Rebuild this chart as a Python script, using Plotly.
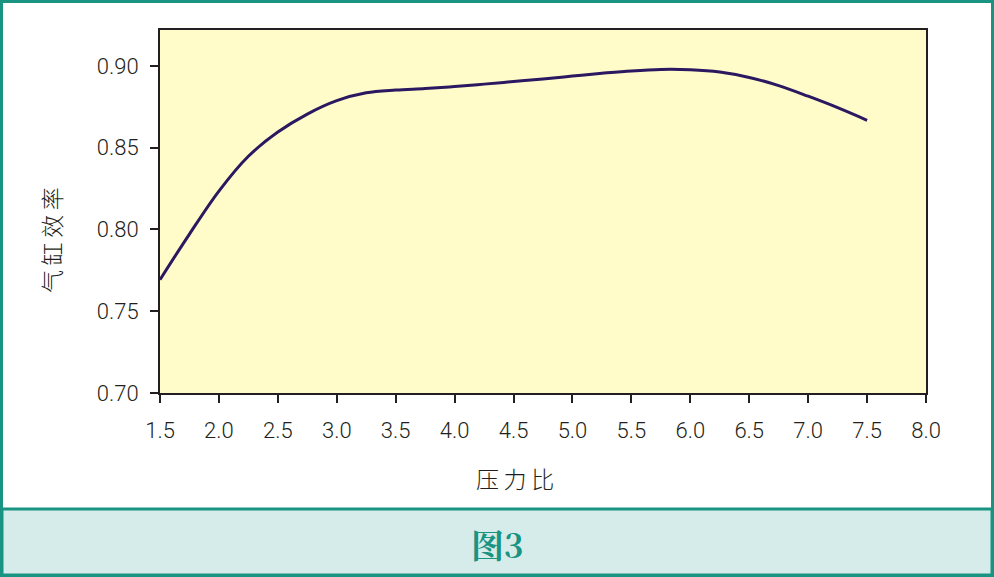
import plotly.graph_objects as go

pressure_ratio = [1.5, 1.75, 2.0, 2.25, 2.5, 2.75, 3.0, 3.25, 3.5, 3.75, 4.0, 4.25, 4.5, 4.75,
                  5.0, 5.25, 5.5, 5.75, 6.0, 6.25, 6.5, 6.75, 7.0, 7.25, 7.5]
cyl_eff = [0.7693, 0.7972, 0.8235, 0.8448, 0.8596, 0.8706, 0.8788, 0.8836, 0.8853, 0.8862,
           0.8874, 0.8889, 0.8905, 0.8921, 0.8938, 0.8955, 0.8970, 0.8979, 0.8977, 0.8963,
           0.8930, 0.8880, 0.8815, 0.8745, 0.8668]

x_ticks = [1.5, 2.0, 2.5, 3.0, 3.5, 4.0, 4.5, 5.0, 5.5, 6.0, 6.5, 7.0, 7.5, 8.0]
y_ticks = [0.70, 0.75, 0.80, 0.85, 0.90]

W, H = 994, 577
L, R, T, B = 160, 926, 30, 393
TEAL = "#1a9482"
INK = "#231f20"
TICKFONT = dict(family="Roboto, Liberation Sans, sans-serif", size=22, weight=300, color=INK)
CJK = "Noto Sans CJK SC"
THIN = "\u2009"

def px(x):
    return (x - L) / (R - L)

def py(y):
    return (B - y) / (B - T)

fig = go.Figure()
fig.add_trace(go.Scatter(
    x=pressure_ratio, y=cyl_eff, mode="lines",
    line=dict(color="#2a1860", width=3, shape="spline", smoothing=1.0),
    hoverinfo="skip", showlegend=False,
))

fig.update_layout(
    width=W, height=H,
    margin=dict(l=L, r=W - R, t=T, b=H - B),
    paper_bgcolor="white",
    plot_bgcolor="#fffcca",
    font=dict(family="Roboto, Liberation Sans, sans-serif", color=INK, size=18),
    xaxis=dict(
        range=[1.5, 8.0], tickvals=x_ticks, ticktext=[f"{v:.1f}" for v in x_ticks],
        showgrid=False, zeroline=False, showline=True, linecolor=INK, linewidth=2,
        mirror=True, ticks="outside", ticklen=8, tickwidth=2, tickcolor=INK,
        tickfont=TICKFONT, ticklabelstandoff=9, fixedrange=True,
    ),
    yaxis=dict(
        range=[0.70, 0.922], tickvals=y_ticks, ticktext=[f"{v:.2f}" for v in y_ticks],
        showgrid=False, zeroline=False, showline=True, linecolor=INK, linewidth=2,
        mirror=True, ticks="outside", ticklen=8, tickwidth=2, tickcolor=INK,
        tickfont=TICKFONT, ticklabelstandoff=7, fixedrange=True,
    ),
    shapes=[
        dict(type="rect", xref="paper", yref="paper",
             x0=px(2), x1=px(992), y0=py(575), y1=py(509),
             fillcolor="#d6ecea", line=dict(color=TEAL, width=3), layer="below"),
        dict(type="rect", xref="paper", yref="paper",
             x0=px(1.5), x1=px(992.5), y0=py(575.5), y1=py(1.5),
             fillcolor="rgba(0,0,0,0)", line=dict(color=TEAL, width=3)),
    ],
    annotations=[
        dict(text=THIN.join("气缸效率"), xref="paper", yref="paper", x=px(51), y=py(240),
             textangle=-90, showarrow=False,
             font=dict(family=CJK, size=23, weight=300, color=INK),
             xanchor="center", yanchor="middle"),
        dict(text=THIN.join("压力比"), xref="paper", yref="paper", x=px(515), y=py(478),
             showarrow=False, font=dict(family=CJK, size=23, weight=300, color=INK),
             xanchor="center", yanchor="middle"),
        dict(text="<b>图3</b>", xref="paper", yref="paper", x=px(497), y=py(543),
             showarrow=False,
             font=dict(family="Noto Serif CJK SC, Liberation Serif, serif", size=33, color=TEAL),
             xanchor="center", yanchor="middle"),
    ],
)

fig.write_html("out.html", config={"displayModeBar": False},
               post_script="document.body.style.margin='0';document.body.style.overflow='hidden';")
